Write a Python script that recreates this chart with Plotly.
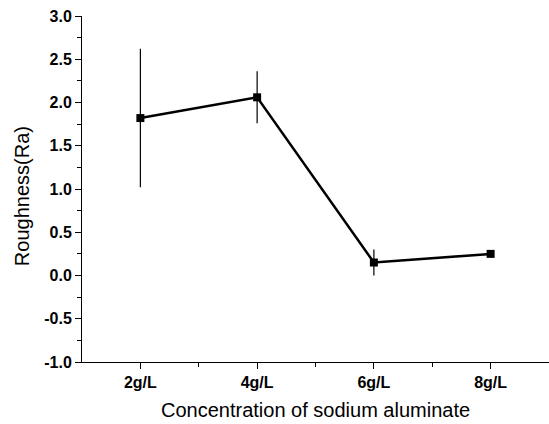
import plotly.graph_objects as go

categories = ["2g/L", "4g/L", "6g/L", "8g/L"]
positions = [1, 2, 3, 4]
roughness = [1.82, 2.06, 0.15, 0.25]
errors = [0.80, 0.30, 0.15, 0.03]
y_ticks = [-1.0, -0.5, 0.0, 0.5, 1.0, 1.5, 2.0, 2.5, 3.0]
y_ticklabels = ["-1.0", "-0.5", "0.0", "0.5", "1.0", "1.5", "2.0", "2.5", "3.0"]

FONT = "Arial, Liberation Sans, sans-serif"

fig = go.Figure()
fig.add_trace(go.Scatter(
    x=positions, y=roughness,
    mode="lines+markers",
    line=dict(color="black", width=2.5),
    marker=dict(symbol="square", size=8, color="black"),
    error_y=dict(type="data", array=errors, visible=True, color="black", thickness=1.2, width=0),
    showlegend=False,
))

fig.update_layout(
    width=549, height=424,
    margin=dict(l=82, r=0, t=16, b=62),
    paper_bgcolor="white", plot_bgcolor="white",
    font=dict(family=FONT, color="black"),
    annotations=[
        dict(text="Concentration of sodium aluminate", xref="paper", yref="paper",
             x=0.5, y=-0.138, yanchor="middle", xanchor="center", showarrow=False,
             font=dict(size=20, family=FONT)),
        dict(text="Roughness(Ra)", xref="paper", yref="paper",
             x=-0.128, y=0.48, xanchor="center", yanchor="middle", textangle=-90, showarrow=False,
             font=dict(size=20, family=FONT)),
    ],
)
fig.update_xaxes(
    range=[0.5, 4.5], automargin=False,
    tickvals=positions, ticktext=categories,
    tickfont=dict(size=16, family=FONT, weight="bold"),
    ticks="outside", ticklen=6, tickwidth=1, tickcolor="black",
    showline=True, linecolor="black", linewidth=1,
    showgrid=False, zeroline=False,
    minor=dict(ticks="outside", ticklen=4, tickwidth=1, tickcolor="black", tickvals=[1.5, 2.5, 3.5], showgrid=False),
)
fig.update_yaxes(
    range=[-1.0, 3.0], automargin=False,
    tickvals=y_ticks, ticktext=y_ticklabels,
    tickfont=dict(size=16, family=FONT, weight="bold"),
    ticks="outside", ticklen=6, tickwidth=1, tickcolor="black",
    showline=True, linecolor="black", linewidth=1,
    showgrid=False, zeroline=False,
    minor=dict(ticks="outside", ticklen=4, tickwidth=1, tickcolor="black", dtick=0.25, tick0=0, showgrid=False),
)

fig.write_html("out.html", config={"displayModeBar": False},
               post_script="document.body.style.margin='0';")
